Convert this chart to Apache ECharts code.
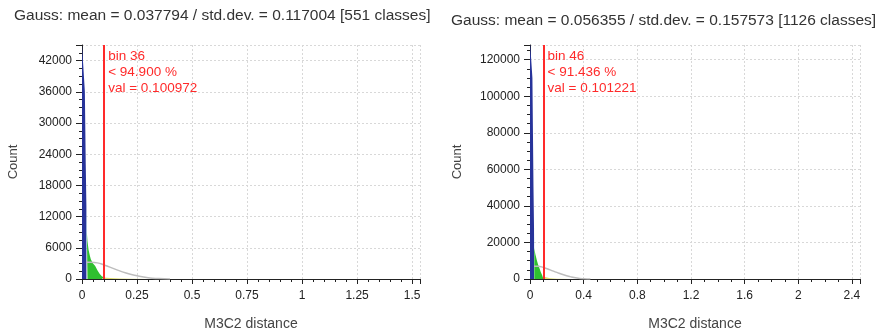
<!DOCTYPE html>
<html>
<head>
<meta charset="utf-8">
<script src="https://cdn.jsdelivr.net/npm/echarts@6/dist/echarts.min.js"></script>
<style>
    html, body { margin: 0; padding: 0; background: #fff; }
</style>
</head>
<body>
<div id="main" style="width: 881px;height:335px;"></div>
<script type="text/javascript">
    // left histogram (551 classes)
    var leftTitle = 'Gauss: mean = 0.037794 / std.dev. = 0.117004 [551 classes]';
    var leftBlue = [[0, 45000], [0.009, 45000], [0.013, 36000], [0.017, 22000], [0.020, 14000]];
    var leftCyan = [[0.020, 14000], [0.022, 9000]];
    var leftGreen = [[0.022, 9000], [0.025, 7200], [0.030, 5600], [0.035, 4600], [0.040, 3800], [0.050, 3000],
        [0.060, 2500], [0.070, 1700], [0.080, 1000], [0.090, 550], [0.100, 300]];
    var leftYellow = [[0.100, 300], [0.130, 200], [0.170, 120], [0.220, 60], [0.300, 20], [0.400, 5], [0.600, 0]];
    var leftGauss = [[0.020, 3200], [0.040, 3200], [0.070, 3100], [0.100, 2700], [0.150, 1900], [0.200, 1150],
        [0.250, 630], [0.300, 250], [0.350, 80], [0.400, 0]];
    var leftBin = ['bin 36', '< 94.900 %', 'val = 0.100972'];
    var leftRed = 0.100972;

    // right histogram (1126 classes)
    var rightTitle = 'Gauss: mean = 0.056355 / std.dev. = 0.157573 [1126 classes]';
    var rightBlue = [[0, 130000], [0.012, 130000], [0.018, 110000], [0.022, 80000], [0.026, 50000], [0.030, 28000]];
    var rightCyan = [[0.030, 28000], [0.032, 17000]];
    var rightGreen = [[0.032, 17000], [0.040, 13500], [0.050, 10500], [0.060, 8000], [0.070, 6000], [0.080, 3800],
        [0.090, 2200], [0.100, 1300]];
    var rightYellow = [[0.100, 1300], [0.110, 800], [0.150, 350], [0.200, 150], [0.300, 50], [0.400, 10], [0.600, 0]];
    var rightGauss = [[0.030, 7000], [0.060, 7000], [0.100, 6300], [0.150, 5000], [0.200, 3600], [0.250, 2300],
        [0.300, 1300], [0.350, 550], [0.400, 150], [0.450, 0]];
    var rightBin = ['bin 46', '< 91.436 %', 'val = 0.101221'];
    var rightRed = 0.101221;

    var font = 'Liberation Sans, Arial, sans-serif';
    var gridLine = { show: true, lineStyle: { color: '#d8d8d8', type: [2, 2], width: 1 } };

    function xAxisCfg(idx, max, step, split) {
        return {
            gridIndex: idx, type: 'value', min: 0, max: max, interval: step,
            name: 'M3C2 distance', nameLocation: 'middle', nameGap: 38,
            nameTextStyle: { fontFamily: font, fontSize: 14, color: '#444' },
            axisLine: { lineStyle: { color: '#222', width: 1 } },
            axisTick: { length: 5, lineStyle: { color: '#222' } },
            minorTick: { show: true, splitNumber: split, length: 3, lineStyle: { color: '#222' } },
            axisLabel: { fontFamily: font, fontSize: 12, color: '#222', margin: 11, showMaxLabel: false,
                formatter: function (v) { return String(v); } },
            splitLine: gridLine
        };
    }
    function yAxisCfg(idx, max, step, gap) {
        return {
            gridIndex: idx, type: 'value', min: 0, max: max, interval: step,
            name: 'Count', nameLocation: 'middle', nameGap: gap,
            nameTextStyle: { fontFamily: font, fontSize: 13, color: '#444' },
            axisLine: { show: true, lineStyle: { color: '#222', width: 1 } },
            axisTick: { show: true, length: 6, lineStyle: { color: '#222' } },
            minorTick: { show: true, splitNumber: 4, length: 3, lineStyle: { color: '#222' } },
            axisLabel: { fontFamily: font, fontSize: 12, color: '#222', margin: 10, showMaxLabel: false,
                formatter: function (v) { return String(v); } },
            splitLine: gridLine
        };
    }
    function area(name, idx, data, color) {
        return {
            name: name, type: 'line', xAxisIndex: idx, yAxisIndex: idx, data: data,
            symbol: 'none', lineStyle: { width: 0 }, areaStyle: { color: color, opacity: 1 },
            silent: true
        };
    }
    function series(idx, blue, cyan, green, yellow, gauss, red) {
        return [
            area('blue', idx, blue, '#27339a'),
            area('cyan', idx, cyan, '#7cc8e8'),
            area('green', idx, green, '#2fbf2f'),
            area('yellow', idx, yellow, '#dede70'),
            {
                type: 'line', xAxisIndex: idx, yAxisIndex: idx, data: gauss, symbol: 'none', smooth: true,
                lineStyle: { color: '#bdbdbd', width: 1.5 }, silent: true,
                markLine: {
                    symbol: 'none', silent: true, label: { show: false },
                    lineStyle: { color: '#ff2a2a', type: 'solid', width: 2 },
                    data: [{ xAxis: red }]
                }
            }
        ];
    }

    var myChart = echarts.init(document.getElementById('main'));
    var option = {
        animation: false,
        title: [
            { text: leftTitle, left: 9, top: 3, textStyle: { fontFamily: font, fontSize: 15.5, fontWeight: 'normal', color: '#333' } },
            { text: rightTitle, left: 446, top: 8, textStyle: { fontFamily: font, fontSize: 15.5, fontWeight: 'normal', color: '#333' } }
        ],
        grid: [
            { left: 82, right: 461, top: 45, bottom: 56, containLabel: false, outerBoundsMode: 'none' },
            { left: 530, right: 21, top: 45, bottom: 56, containLabel: false, outerBoundsMode: 'none' }
        ],
        xAxis: [xAxisCfg(0, 1.536, 0.25, 5), xAxisCfg(1, 2.46, 0.4, 4)],
        yAxis: [yAxisCfg(0, 45000, 6000, 62), yAxisCfg(1, 128000, 20000, 66)],
        series: series(0, leftBlue, leftCyan, leftGreen, leftYellow, leftGauss, leftRed)
            .concat(series(1, rightBlue, rightCyan, rightGreen, rightYellow, rightGauss, rightRed))
    };
    myChart.setOption(option);

    // bin labels next to the red line
    var p1 = myChart.convertToPixel({ gridIndex: 0 }, [leftRed, 45000]);
    var p2 = myChart.convertToPixel({ gridIndex: 1 }, [rightRed, 128000]);
    function binText(p, lines) {
        return {
            type: 'text', left: p[0] + 4, top: p[1] + 3,
            style: { text: lines.join('\n'), fill: '#ff2a2a', font: '13.5px ' + font, lineHeight: 16 }
        };
    }
    myChart.setOption({ graphic: [binText(p1, leftBin), binText(p2, rightBin)] });
</script>
</body>
</html>
